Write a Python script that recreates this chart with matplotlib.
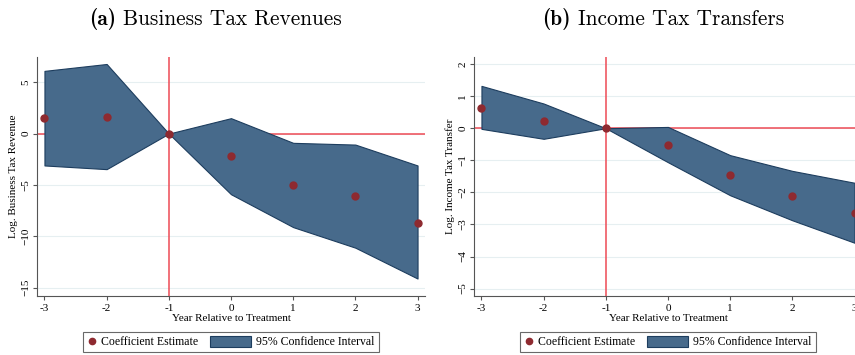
import matplotlib
matplotlib.use("Agg")
import matplotlib.pyplot as plt
from matplotlib.lines import Line2D
from matplotlib.patches import Patch, Rectangle
from matplotlib.legend_handler import HandlerBase
from matplotlib.offsetbox import TextArea, HPacker, AnnotationBbox

# Event-study estimates by year relative to treatment
years = [-3, -2, -1, 0, 1, 2, 3]

biz_coef = [1.5, 1.62, 0.0, -2.2, -5.05, -6.08, -8.7]
biz_upper = [6.1, 6.77, 0.0, 1.5, -0.9, -1.07, -3.1]
biz_lower = [-3.1, -3.46, 0.0, -5.9, -9.1, -11.1, -14.1]
biz_yticks = [-15, -10, -5, 0, 5]

inc_coef = [0.63, 0.21, 0.0, -0.51, -1.45, -2.11, -2.65]
inc_upper = [1.32, 0.77, 0.0, 0.04, -0.84, -1.33, -1.70]
inc_lower = [-0.02, -0.33, 0.0, -1.06, -2.09, -2.87, -3.57]
inc_yticks = [-5, -4, -3, -2, -1, 0, 1, 2]

title_tags = ["(a)", "(b)"]
title_texts = ["Business Tax Revenues", "Income Tax Transfers"]
ylabels = ["Log. Business Tax Revenue", "Log. Income Tax Transfer"]
xlabel = "Year Relative to Treatment"
legend_labels = ["Coefficient Estimate", "95% Confidence Interval"]

SERIF = "Liberation Serif"

FILL = "#476a8b"
EDGE = "#1d3d5e"
DOT = "#8e2a30"
REF = "#ee4a55"
GRID = "#e6eff1"
AXC = "#555555"

W, H = 855, 355
PT = 72 / 100  # points per pixel at 100 dpi


class WideBoxHandler(HandlerBase):
    """Legend key drawn as a wide filled box, right-aligned to the key slot."""

    def __init__(self, box_w, box_h, **kw):
        super().__init__(**kw)
        self.box_w = box_w
        self.box_h = box_h

    def create_artists(self, legend, orig_handle, xdescent, ydescent,
                       width, height, fontsize, trans):
        x1 = -xdescent + width
        yc = -ydescent + height / 2
        r = Rectangle((x1 - self.box_w, yc - self.box_h / 2),
                      self.box_w, self.box_h,
                      facecolor=orig_handle.get_facecolor(),
                      edgecolor=orig_handle.get_edgecolor(),
                      lw=orig_handle.get_linewidth(), transform=trans)
        return [r]


fig = plt.figure(figsize=(W / 100, H / 100), dpi=100)
fig.patch.set_facecolor("white")

panels = [
    dict(left=37, coef=biz_coef, up=biz_upper, lo=biz_lower,
         yt=biz_yticks, ylim=(-15.8, 7.45), title_x=215),
    dict(left=474, coef=inc_coef, up=inc_upper, lo=inc_lower,
         yt=inc_yticks, ylim=(-5.23, 2.22), title_x=663),
]

top_px, bot_px, width_px = 57, 296, 388

for i, p in enumerate(panels):
    ax = fig.add_axes([p["left"] / W, 1 - bot_px / H, width_px / W,
                       (bot_px - top_px) / H])
    ax.set_xlim(-3.12, 3.12)
    ax.set_ylim(*p["ylim"])
    ax.set_yticks(p["yt"])
    ax.set_xticks(years)
    ax.set_xticklabels([str(y) for y in years])
    for t in p["yt"]:
        ax.axhline(t, color=GRID, lw=0.8, zorder=0)

    ax.axhline(0, color=REF, lw=1.1, zorder=1)
    ax.axvline(-1, color=REF, lw=1.1, zorder=1)
    ax.fill_between(years, p["lo"], p["up"], facecolor=FILL,
                    edgecolor=EDGE, lw=0.8, zorder=2)
    ax.plot(years, p["coef"], "o", color=DOT, ms=5, zorder=3, clip_on=False)

    for s in ("top", "right"):
        ax.spines[s].set_visible(False)
    for s in ("left", "bottom"):
        ax.spines[s].set_color(AXC)
        ax.spines[s].set_linewidth(0.8)
    ax.tick_params(axis="both", direction="out", length=4 * PT, width=0.8,
                   color=AXC, labelsize=8)
    ax.tick_params(axis="x", pad=3.2)
    ax.tick_params(axis="y", pad=2)
    for lab in ax.get_xticklabels() + ax.get_yticklabels():
        lab.set_fontfamily(SERIF)
    for lab in ax.get_yticklabels():
        lab.set_rotation(90)
        lab.set_va("center")

    ax.set_xlabel(xlabel, fontfamily=SERIF, fontsize=8, labelpad=0.5)
    ax.set_ylabel(ylabels[i], fontfamily=SERIF, fontsize=8, labelpad=2)

    dot_key = Line2D([], [], marker="o", ls="none", color=DOT, ms=4.5)
    box_key = Patch(facecolor=FILL, edgecolor=EDGE, lw=0.8)
    leg = ax.legend([dot_key, box_key], legend_labels, loc="upper center",
                    bbox_to_anchor=(0.5, -0.15), ncol=2, frameon=True,
                    fancybox=False, prop={"family": SERIF, "size": 8.5},
                    handlelength=0.72, handleheight=0.85, columnspacing=3.75,
                    handletextpad=0.45, borderpad=0.36, borderaxespad=0,
                    numpoints=1,
                    handler_map={Patch: WideBoxHandler(41 * PT, 11 * PT)})
    leg.get_frame().set_edgecolor("#444444")
    leg.get_frame().set_linewidth(0.8)

    tag = TextArea(title_tags[i], textprops=dict(family="cmb10", size=15.4))
    txt = TextArea(title_texts[i], textprops=dict(family="cmr10", size=15.4))
    pack = HPacker(children=[tag, txt], align="baseline", pad=0, sep=5)
    ab = AnnotationBbox(pack, (p["title_x"] / W, 1 - 19 / H),
                        xycoords="figure fraction", frameon=False,
                        box_alignment=(0.5, 0.5), annotation_clip=False)
    fig.add_artist(ab)

fig.savefig("out.png", dpi=100)
